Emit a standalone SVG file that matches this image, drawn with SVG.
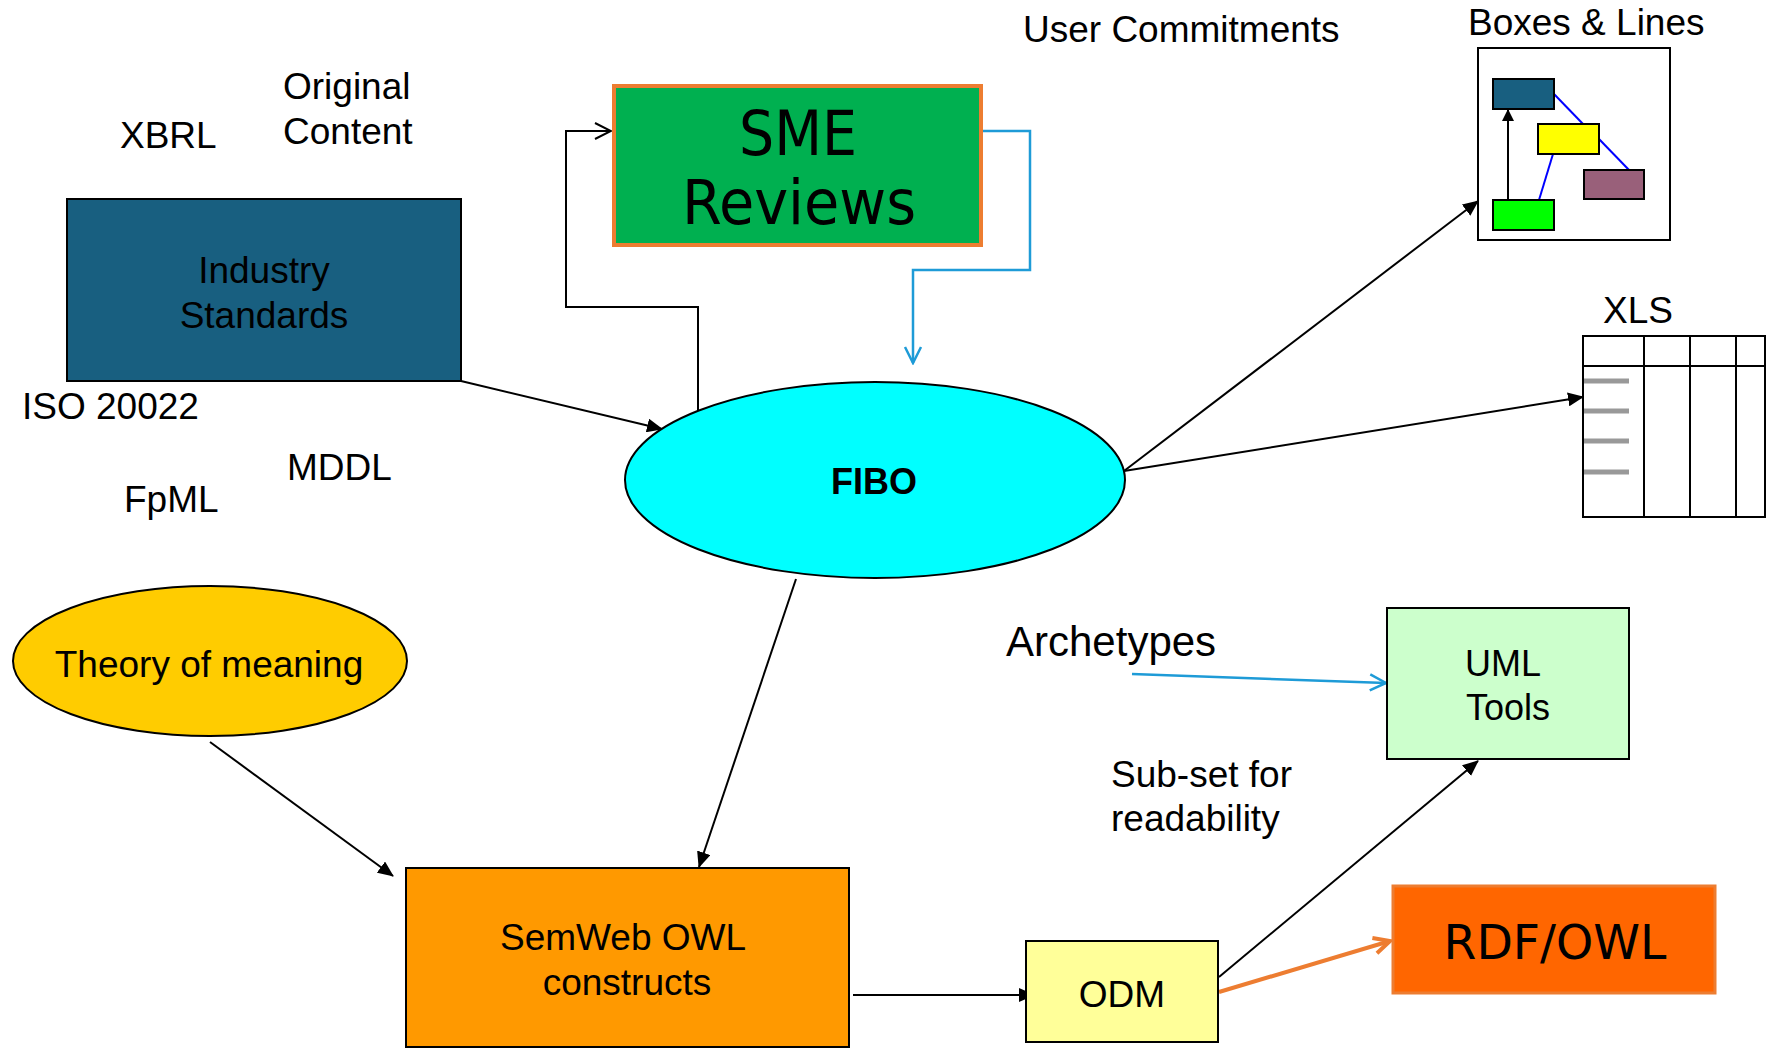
<svg xmlns="http://www.w3.org/2000/svg" width="1768" height="1052" viewBox="0 0 1768 1052">
  <style>
    svg { font-family: "Liberation Sans", Arial, sans-serif; font-size: 37px; }
    text { fill: #000; }
    .c { text-anchor: middle; }
    .node { stroke: #000; stroke-width: 2; }
    .line { fill: none; stroke: #000; stroke-width: 2; }
    .blue { fill: none; stroke: #1E9BD7; stroke-width: 2.5; }
    .orange { fill: none; stroke: #ED7D31; stroke-width: 4; }
    .dv { font-family: "DejaVu Sans Condensed", "DejaVu Sans", sans-serif; }
    .dvr { font-family: "DejaVu Sans", sans-serif; }
  </style>
  <defs>
    <marker id="tri" viewBox="0 0 16 14" markerWidth="16" markerHeight="14" refX="15" refY="7" orient="auto" markerUnits="userSpaceOnUse">
      <path d="M0,0 L16,7 L0,14 z" fill="#000"/>
    </marker>
    <marker id="triSmall" viewBox="0 0 12 12" markerWidth="12" markerHeight="12" refX="11" refY="6" orient="auto" markerUnits="userSpaceOnUse">
      <path d="M0,0 L12,6 L0,12 z" fill="#000"/>
    </marker>
    <marker id="veeBlack" viewBox="0 0 20 20" markerWidth="20" markerHeight="20" refX="18" refY="10" orient="auto" markerUnits="userSpaceOnUse">
      <path d="M2,2 L18,10 L2,18" fill="none" stroke="#000" stroke-width="2"/>
    </marker>
    <marker id="veeBlue" viewBox="0 0 20 20" markerWidth="20" markerHeight="20" refX="18" refY="10" orient="auto" markerUnits="userSpaceOnUse">
      <path d="M2,2 L18,10 L2,18" fill="none" stroke="#1E9BD7" stroke-width="2.5"/>
    </marker>
    <marker id="veeOrange" viewBox="0 0 22 22" markerWidth="22" markerHeight="22" refX="19" refY="11" orient="auto" markerUnits="userSpaceOnUse">
      <path d="M3,3 L19,11 L3,19" fill="none" stroke="#ED7D31" stroke-width="4"/>
    </marker>
  </defs>

  <rect width="1768" height="1052" fill="#fff"/>

  <!-- free-standing labels -->
  <g id="labels">
    <text x="120" y="148">XBRL</text>
    <text x="283" y="99">Original</text>
    <text x="283" y="144">Content</text>
    <text x="22" y="419">ISO 20022</text>
    <text x="287" y="480">MDDL</text>
    <text x="124" y="512">FpML</text>
    <text x="1023" y="42">User Commitments</text>
    <text x="1006" y="656" font-size="42">Archetypes</text>
    <text x="1111" y="787">Sub-set for</text>
    <text x="1111" y="831">readability</text>
  </g>

  <!-- connectors -->
  <g id="connectors">
    <line class="line" x1="461" y1="381" x2="662" y2="429" marker-end="url(#tri)"/>
    <polyline class="line" points="698,411 698,307 566,307 566,131 611,131" marker-end="url(#veeBlack)"/>
    <polyline class="blue" points="983,131 1030,131 1030,270 913,270 913,363" marker-end="url(#veeBlue)"/>
    <line class="line" x1="1124" y1="471" x2="1478" y2="201" marker-end="url(#tri)"/>
    <line class="line" x1="1124" y1="471" x2="1583" y2="397" marker-end="url(#tri)"/>
    <line class="line" x1="796" y1="579" x2="699" y2="867" marker-end="url(#tri)"/>
    <line class="line" x1="210" y1="742" x2="393" y2="876" marker-end="url(#tri)"/>
    <line class="line" x1="853" y1="995" x2="1034" y2="995" marker-end="url(#tri)"/>
    <line class="line" x1="1219" y1="977" x2="1478" y2="761" marker-end="url(#tri)"/>
    <line class="orange" x1="1219" y1="992" x2="1390" y2="941" marker-end="url(#veeOrange)"/>
    <line class="blue" x1="1132" y1="674" x2="1386" y2="683" marker-end="url(#veeBlue)"/>
  </g>

  <!-- nodes -->
  <g id="industry-standards">
    <rect class="node" x="67" y="199" width="394" height="182" fill="#185F80"/>
    <text class="c" x="264" y="283">Industry</text>
    <text class="c" x="264" y="328">Standards</text>
  </g>

  <g id="sme-reviews">
    <rect x="614" y="86" width="367" height="159" fill="#00B050" stroke="#ED7D31" stroke-width="4"/>
    <text class="c dv" x="798" y="155" font-size="62" textLength="118" lengthAdjust="spacingAndGlyphs">SME</text>
    <text class="c dv" x="799" y="224" font-size="62" textLength="234" lengthAdjust="spacingAndGlyphs">Reviews</text>
  </g>

  <g id="fibo">
    <ellipse class="node" cx="875" cy="480" rx="250" ry="98" fill="#00FFFF"/>
    <text class="c" x="874" y="494" font-size="36" font-weight="bold">FIBO</text>
  </g>

  <g id="theory-of-meaning">
    <ellipse class="node" cx="210" cy="661" rx="197" ry="75" fill="#FFCC00"/>
    <text class="c" x="209" y="677">Theory of meaning</text>
  </g>

  <g id="semweb-owl">
    <rect class="node" x="406" y="868" width="443" height="179" fill="#FF9900"/>
    <text class="c" x="623" y="950">SemWeb OWL</text>
    <text class="c" x="627" y="995">constructs</text>
  </g>

  <g id="odm">
    <rect class="node" x="1026" y="941" width="192" height="101" fill="#FFFF99"/>
    <text class="c" x="1122" y="1007">ODM</text>
  </g>

  <g id="uml-tools">
    <rect class="node" x="1387" y="608" width="242" height="151" fill="#CCFFCC"/>
    <text x="1465" y="676" font-size="36">UML</text>
    <text x="1466" y="720" font-size="36">Tools</text>
  </g>

  <g id="rdf-owl">
    <rect x="1393" y="886" width="322" height="107" fill="#FF6600" stroke="#ED7D31" stroke-width="3"/>
    <text class="c dvr" x="1555" y="959" font-size="48" textLength="223" lengthAdjust="spacingAndGlyphs">RDF/OWL</text>
  </g>

  <g id="boxes-and-lines">
    <text x="1468" y="35">Boxes &amp; Lines</text>
    <rect x="1478" y="48" width="192" height="192" fill="#fff" stroke="#000" stroke-width="2"/>
    <line x1="1554" y1="94" x2="1583" y2="124" stroke="#0000FF" stroke-width="2"/>
    <line x1="1599" y1="139" x2="1629" y2="170" stroke="#0000FF" stroke-width="2"/>
    <line x1="1553" y1="154" x2="1539" y2="200" stroke="#0000FF" stroke-width="2"/>
    <line x1="1508" y1="200" x2="1508" y2="110" stroke="#000" stroke-width="2" marker-end="url(#triSmall)"/>
    <rect x="1493" y="79" width="61" height="30" fill="#185F80" stroke="#000" stroke-width="2"/>
    <rect x="1538" y="124" width="61" height="30" fill="#FFFF00" stroke="#000" stroke-width="2"/>
    <rect x="1584" y="170" width="60" height="29" fill="#99607A" stroke="#000" stroke-width="2"/>
    <rect x="1493" y="200" width="61" height="30" fill="#00FF00" stroke="#000" stroke-width="2"/>
  </g>

  <g id="xls">
    <text x="1603" y="323">XLS</text>
    <rect x="1583" y="336" width="182" height="181" fill="#fff" stroke="#000" stroke-width="2"/>
    <line x1="1583" y1="366" x2="1765" y2="366" stroke="#000" stroke-width="2"/>
    <line x1="1644" y1="336" x2="1644" y2="517" stroke="#000" stroke-width="2"/>
    <line x1="1690" y1="336" x2="1690" y2="517" stroke="#000" stroke-width="2"/>
    <line x1="1736" y1="336" x2="1736" y2="517" stroke="#000" stroke-width="2"/>
    <g stroke="#999" stroke-width="5">
      <line x1="1584" y1="381" x2="1629" y2="381"/>
      <line x1="1584" y1="411" x2="1629" y2="411"/>
      <line x1="1584" y1="441" x2="1629" y2="441"/>
      <line x1="1584" y1="472" x2="1629" y2="472"/>
    </g>
  </g>
</svg>
